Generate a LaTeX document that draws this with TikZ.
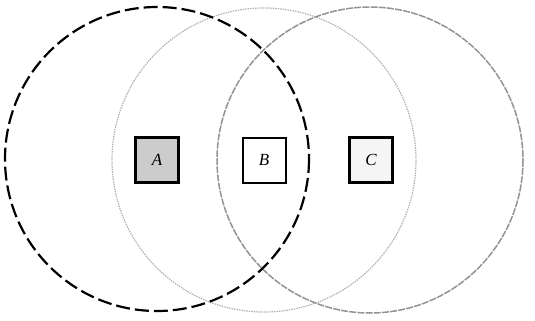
\documentclass[tikz,border=0pt]{standalone}
\usepackage{fontspec}
\setmainfont{Liberation Serif}
\begin{document}
\begin{tikzpicture}[x=1pt,y=-1pt,
  box/.style={draw=black,minimum width=43pt,minimum height=45pt,inner sep=0pt,font=\fontsize{17}{19}\selectfont\itshape},
  leftring/.style={draw=black,line width=2.2pt,dash pattern=on 14pt off 5pt},
  midring/.style={draw=gray!60,line width=1.2pt,dash pattern=on 1.5pt off 1pt},
  rightring/.style={draw=gray!85,line width=1.5pt,dash pattern=on 7pt off 1.2pt}]
\useasboundingbox (0,0) rectangle (535,321);
\draw[midring] (264,160) circle[radius=152];
\draw[rightring] (370,160) circle[radius=153];
\draw[leftring] (157,159) circle[radius=152];
\node[box,line width=2.5pt,fill=gray!40] (A) at (157,160) {A};
\node[box,line width=2pt,fill=white] (B) at (264,160) {B};
\node[box,line width=3.5pt,fill=gray!8] (C) at (371,160) {C};
\end{tikzpicture}
\end{document}
